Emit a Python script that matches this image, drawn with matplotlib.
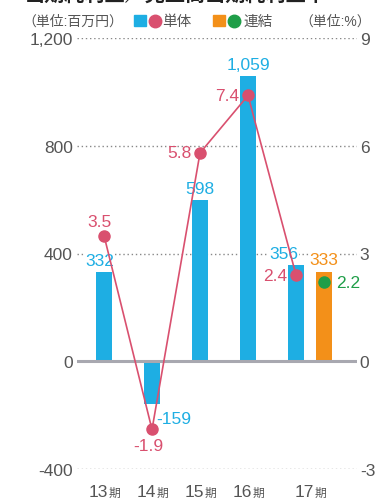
import matplotlib.pyplot as plt

plt.rcParams['font.family'] = ['Liberation Sans', 'Noto Sans CJK JP', 'DejaVu Sans']
plt.rcParams['axes.unicode_minus'] = False

periods = ['13', '14', '15', '16', '17']
single_profit = [332, -159, 598, 1059, 356]
single_ratio = [3.5, -1.9, 5.8, 7.4, 2.4]
consol_profit = [333]
consol_ratio = [2.2]
left_ticks = [-400, 0, 400, 800, 1200]
right_ticks = [-3, 0, 3, 6, 9]

BLUE = '#1eaee3'
ORANGE = '#f39019'
PINK = '#d9506f'
GREEN = '#1f9e48'
GRAY = '#555555'
FS = 12.5

fig = plt.figure(figsize=(3.76, 5.02), dpi=100)
ax = fig.add_axes([77 / 376, 32 / 502, 280 / 376, 431 / 502])
ax2 = ax.twinx()

x = list(range(len(periods)))
xc = [x[-1] + 0.58]
w = 0.33

ax.bar(x, single_profit, width=w, color=BLUE, zorder=3)
ax.bar(xc, consol_profit, width=w, color=ORANGE, zorder=3)
ax.set_xlim(-0.5625, 5.27)
ax.set_ylim(-400, 1200)
for t in [-400, 400, 800, 1200]:
    ax.axhline(t, color='#888888', lw=1, ls=(0, (1, 2)), zorder=1)
ax.axhline(0, color='#a8a8b0', lw=2.2, zorder=4)

ax2.plot(x, single_ratio, color=PINK, lw=1.2, marker='o', ms=8, zorder=5)
ax2.plot(xc, consol_ratio, color=GREEN, lw=0, marker='o', ms=8, zorder=5)
ax2.set_ylim(-3, 9)

for a in (ax, ax2):
    for s in a.spines.values():
        s.set_visible(False)
    a.tick_params(length=0, labelsize=FS, colors=GRAY, pad=3)
ax2.tick_params(pad=2)
ax.set_yticks(left_ticks)
ax.set_yticklabels([f'{v:,}' for v in left_ticks])
ax2.set_yticks(right_ticks)
ax2.set_yticklabels([str(v) for v in right_ticks])
ax.set_xticks([])

# bar labels
bbox = dict(facecolor='white', edgecolor='none', pad=0.5)
bar_offsets = [(-3, 3, 'center', 'bottom'), (3, -5, 'left', 'top'),
               (0, 3, 'center', 'bottom'), (0, 3, 'center', 'bottom'),
               (-9, 3, 'center', 'bottom')]
for xi, v, (dx, dy, ha, va) in zip(x, single_profit, bar_offsets):
    ax.annotate(f'{v:,}', (xi, v), xytext=(dx, dy), textcoords='offset points',
                ha=ha, va=va, color=BLUE, fontsize=FS, bbox=bbox, zorder=6)
ax.annotate(f'{consol_profit[0]:,}', (xc[0], consol_profit[0]), xytext=(0, 3),
            textcoords='offset points', ha='center', va='bottom', color=ORANGE,
            fontsize=FS, bbox=bbox, zorder=6)

# ratio labels
ratio_offsets = [(-3, 5, 'center', 'bottom'), (-3, -6, 'center', 'top'),
                 (-6, 0, 'right', 'center'), (-6, 0, 'right', 'center'),
                 (-6, 0, 'right', 'center')]
for xi, v, (dx, dy, ha, va) in zip(x, single_ratio, ratio_offsets):
    ax2.annotate(f'{v}', (xi, v), xytext=(dx, dy), textcoords='offset points',
                 ha=ha, va=va, color=PINK, fontsize=FS, zorder=6)
ax2.annotate(f'{consol_ratio[0]}', (xc[0], consol_ratio[0]), xytext=(9, 0),
             textcoords='offset points', ha='left', va='center', color=GREEN,
             fontsize=FS, zorder=6)

# category labels
cat_x = x[:-1] + [(x[-1] + xc[0]) / 2]
for cx, p in zip(cat_x, periods):
    ax.annotate(p, (cx, 0), xycoords=('data', 'axes fraction'), xytext=(3, -11),
                textcoords='offset points', ha='right', va='top',
                color=GRAY, fontsize=FS, annotation_clip=False)
    ax.annotate('期', (cx, 0), xycoords=('data', 'axes fraction'), xytext=(3, -13),
                textcoords='offset points', ha='left', va='top',
                color=GRAY, fontsize=8.5, annotation_clip=False)

# header
fig.text(25 / 376, 1 - 1 / 502, '当期純利益／売上高当期純利益率', fontsize=14.5,
         fontweight='bold', color='#222222', va='baseline', ha='left')
fig.text(22 / 376, 1 - 22 / 502, '（単位:百万円）', fontsize=10, color=GRAY, va='center')
fig.text(371 / 376, 1 - 22 / 502, '（単位:%）', fontsize=10, color=GRAY, va='center', ha='right')
fig.patches.append(plt.Rectangle((134 / 376, 1 - 27 / 502), 12 / 376, 11 / 502,
                                 transform=fig.transFigure, color=BLUE))
fig.patches.append(plt.Rectangle((213 / 376, 1 - 27 / 502), 12 / 376, 11 / 502,
                                 transform=fig.transFigure, color=ORANGE))
fig.lines.append(plt.Line2D([154.5 / 376], [1 - 21.5 / 502], marker='o', ms=9,
                            color=PINK, transform=fig.transFigure))
fig.lines.append(plt.Line2D([234 / 376], [1 - 21.5 / 502], marker='o', ms=9,
                            color=GREEN, transform=fig.transFigure))
fig.text(162 / 376, 1 - 22 / 502, '単体', fontsize=10.5, color=GRAY, va='center')
fig.text(243 / 376, 1 - 22 / 502, '連結', fontsize=10.5, color=GRAY, va='center')

fig.savefig('out.png', dpi=100)
